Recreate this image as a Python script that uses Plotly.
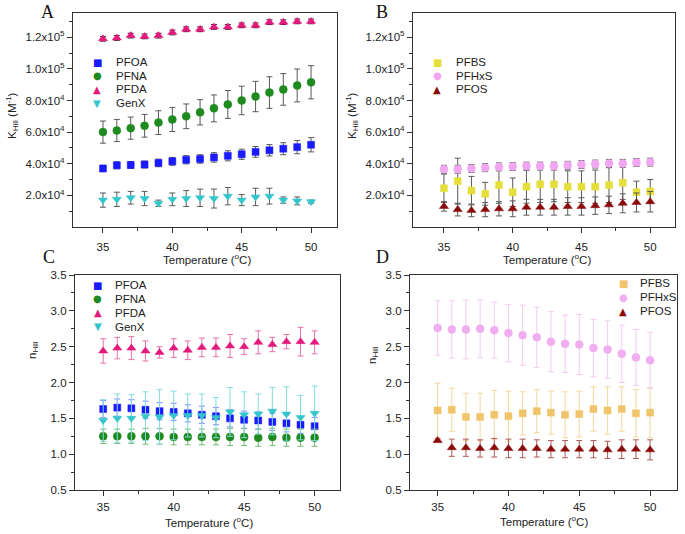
import plotly.graph_objects as go

W, H = 685, 534

temps = list(range(35, 51))

# Panel A: K_Hill (M^-1), carboxylates
A_PFOA = [3.70e4, 3.90e4, 3.92e4, 3.95e4, 4.05e4, 4.15e4, 4.25e4, 4.30e4, 4.40e4, 4.50e4, 4.60e4, 4.75e4, 4.85e4, 4.95e4, 5.05e4, 5.20e4]
A_PFOA_err = [0.20e4, 0.22e4, 0.22e4, 0.22e4, 0.24e4, 0.25e4, 0.26e4, 0.27e4, 0.30e4, 0.32e4, 0.32e4, 0.34e4, 0.36e4, 0.38e4, 0.42e4, 0.45e4]
A_PFNA = [6.00e4, 6.10e4, 6.25e4, 6.40e4, 6.60e4, 6.80e4, 7.00e4, 7.25e4, 7.50e4, 7.75e4, 8.00e4, 8.25e4, 8.50e4, 8.70e4, 8.95e4, 9.15e4]
A_PFNA_err = [0.70e4, 0.70e4, 0.70e4, 0.72e4, 0.75e4, 0.76e4, 0.78e4, 0.80e4, 0.85e4, 0.88e4, 0.90e4, 0.96e4, 1.00e4, 1.00e4, 1.04e4, 1.05e4]
A_PFDA = [1.190e5, 1.195e5, 1.210e5, 1.205e5, 1.210e5, 1.230e5, 1.250e5, 1.250e5, 1.265e5, 1.265e5, 1.275e5, 1.275e5, 1.295e5, 1.295e5, 1.300e5, 1.300e5]
A_PFDA_err = [0.15e4] * 16
A_GenX = [1.70e4, 1.75e4, 1.85e4, 1.80e4, 1.50e4, 1.75e4, 1.80e4, 1.85e4, 1.80e4, 1.95e4, 1.70e4, 1.90e4, 1.95e4, 1.70e4, 1.65e4, 1.60e4]
A_GenX_err = [0.45e4, 0.45e4, 0.40e4, 0.45e4, 0.20e4, 0.40e4, 0.50e4, 0.55e4, 0.60e4, 0.55e4, 0.35e4, 0.55e4, 0.50e4, 0.20e4, 0.25e4, 0.10e4]

# Panel B: K_Hill (M^-1), sulfonates
B_PFBS = [2.45e4, 2.90e4, 2.30e4, 2.10e4, 2.65e4, 2.20e4, 2.55e4, 2.70e4, 2.70e4, 2.55e4, 2.55e4, 2.55e4, 2.65e4, 2.80e4, 2.20e4, 2.25e4]
B_PFBS_err = [0.90e4, 1.45e4, 0.90e4, 0.72e4, 1.15e4, 0.90e4, 1.05e4, 1.15e4, 1.10e4, 1.00e4, 1.00e4, 1.05e4, 1.10e4, 1.05e4, 0.70e4, 0.75e4]
B_PFHxS = [3.65e4, 3.65e4, 3.70e4, 3.75e4, 3.80e4, 3.82e4, 3.85e4, 3.85e4, 3.85e4, 3.90e4, 3.95e4, 3.98e4, 4.02e4, 4.02e4, 4.08e4, 4.10e4]
B_PFHxS_err = [0.25e4] * 16
B_PFOS = [1.30e4, 1.10e4, 1.05e4, 1.10e4, 1.15e4, 1.15e4, 1.25e4, 1.25e4, 1.25e4, 1.30e4, 1.30e4, 1.35e4, 1.40e4, 1.50e4, 1.55e4, 1.60e4]
B_PFOS_err = [0.30e4, 0.40e4, 0.40e4, 0.45e4, 0.45e4, 0.50e4, 0.50e4, 0.50e4, 0.50e4, 0.55e4, 0.55e4, 0.55e4, 0.55e4, 0.60e4, 0.60e4, 0.65e4]

# Panel C: n_Hill, carboxylates
C_PFOA = [1.63, 1.65, 1.64, 1.62, 1.60, 1.59, 1.57, 1.55, 1.53, 1.50, 1.48, 1.47, 1.45, 1.43, 1.41, 1.39]
C_PFOA_err = [0.12] * 16
C_PFNA = [1.25, 1.25, 1.25, 1.25, 1.25, 1.24, 1.24, 1.24, 1.24, 1.24, 1.24, 1.23, 1.24, 1.23, 1.23, 1.23]
C_PFNA_err = [0.10, 0.10, 0.10, 0.11, 0.11, 0.11, 0.11, 0.11, 0.11, 0.12, 0.12, 0.12, 0.12, 0.12, 0.12, 0.12]
C_PFDA = [2.44, 2.48, 2.48, 2.44, 2.42, 2.48, 2.45, 2.49, 2.49, 2.51, 2.50, 2.56, 2.53, 2.57, 2.57, 2.56]
C_PFDA_err = [0.17, 0.15, 0.16, 0.14, 0.08, 0.13, 0.13, 0.13, 0.13, 0.16, 0.11, 0.16, 0.10, 0.10, 0.20, 0.16]
C_GenX = [1.47, 1.50, 1.50, 1.53, 1.52, 1.54, 1.54, 1.54, 1.51, 1.59, 1.55, 1.56, 1.60, 1.56, 1.51, 1.57]
C_GenX_err = [0.29, 0.34, 0.33, 0.34, 0.38, 0.34, 0.30, 0.30, 0.28, 0.34, 0.32, 0.28, 0.33, 0.38, 0.31, 0.38]

# Panel D: n_Hill, sulfonates
D_PFBS = [1.61, 1.62, 1.52, 1.52, 1.55, 1.53, 1.57, 1.60, 1.58, 1.55, 1.56, 1.63, 1.61, 1.63, 1.57, 1.58]
D_PFBS_err = [0.38, 0.30, 0.33, 0.33, 0.34, 0.35, 0.30, 0.30, 0.30, 0.32, 0.32, 0.31, 0.33, 0.31, 0.33, 0.35]
D_PFHxS = [2.76, 2.74, 2.74, 2.75, 2.73, 2.69, 2.66, 2.63, 2.57, 2.54, 2.53, 2.48, 2.46, 2.40, 2.35, 2.31]
D_PFHxS_err = [0.38, 0.40, 0.41, 0.40, 0.39, 0.40, 0.42, 0.42, 0.42, 0.40, 0.42, 0.40, 0.40, 0.40, 0.39, 0.39]
D_PFOS = [1.19, 1.09, 1.09, 1.08, 1.09, 1.08, 1.08, 1.08, 1.07, 1.07, 1.07, 1.07, 1.06, 1.07, 1.07, 1.06]
D_PFOS_err = [0.02, 0.12, 0.12, 0.12, 0.13, 0.13, 0.13, 0.12, 0.12, 0.12, 0.12, 0.12, 0.12, 0.13, 0.13, 0.14]

K_tickvals = [2e4, 4e4, 6e4, 8e4, 1e5, 1.2e5]
K_ticktext = ["2.0x10<sup>4</sup>", "4.0x10<sup>4</sup>", "6.0x10<sup>4</sup>",
              "8.0x10<sup>4</sup>", "1.0x10<sup>5</sup>", "1.2x10<sup>5</sup>"]
n_tickvals = [0.5, 1.0, 1.5, 2.0, 2.5, 3.0, 3.5]
n_ticktext = ["0.5", "1.0", "1.5", "2.0", "2.5", "3.0", "3.5"]
x_tickvals = [35, 40, 45, 50]

FONT = "Liberation Sans, Arial, sans-serif"
TXT = "#222222"
GRAY_ERR = "#5a5a5a"
SIZES = {"square": 7, "circle": 8, "triangle-up": 8, "triangle-down": 8}
GLYPHS = {"square": "■", "circle": "●", "triangle-up": "▲", "triangle-down": "▼"}

fig = go.Figure()
legend_rows = {"A": [], "B": [], "C": [], "D": []}

def add(panel, x, y, err, name, color, symbol, errcolor, xa, ya):
    fig.add_trace(go.Scatter(
        x=x, y=y, mode="markers", name=name, showlegend=False,
        marker=dict(color=color, symbol=symbol, size=SIZES[symbol], line=dict(color=color, width=0.5)),
        error_y=dict(type="data", array=err, visible=True, color=errcolor, thickness=1, width=3),
        xaxis=xa, yaxis=ya))
    legend_rows[panel].append((name, color, symbol))

# A
add("A", temps, A_PFOA, A_PFOA_err, "PFOA", "#1a1aff", "square", GRAY_ERR, "x", "y")
add("A", temps, A_PFNA, A_PFNA_err, "PFNA", "#1f8a1f", "circle", GRAY_ERR, "x", "y")
add("A", temps, A_PFDA, A_PFDA_err, "PFDA", "#e3197b", "triangle-up", "#3a1a2a", "x", "y")
add("A", temps, A_GenX, A_GenX_err, "GenX", "#33c7cc", "triangle-down", GRAY_ERR, "x", "y")
# B
add("B", temps, B_PFBS, B_PFBS_err, "PFBS", "#e6df3a", "square", GRAY_ERR, "x2", "y2")
add("B", temps, B_PFHxS, B_PFHxS_err, "PFHxS", "#f0a6f0", "circle", GRAY_ERR, "x2", "y2")
add("B", temps, B_PFOS, B_PFOS_err, "PFOS", "#8b0a0a", "triangle-up", GRAY_ERR, "x2", "y2")
# C
add("C", temps, C_PFOA, C_PFOA_err, "PFOA", "#1a1aff", "square", "#7f8cff", "x3", "y3")
add("C", temps, C_PFNA, C_PFNA_err, "PFNA", "#1f8a1f", "circle", "#74b874", "x3", "y3")
add("C", temps, C_PFDA, C_PFDA_err, "PFDA", "#e3197b", "triangle-up", "#e872aa", "x3", "y3")
add("C", temps, C_GenX, C_GenX_err, "GenX", "#33c7cc", "triangle-down", "#82dcdf", "x3", "y3")
# D
add("D", temps, D_PFBS, D_PFBS_err, "PFBS", "#f0c46a", "square", "#f2d89c", "x4", "y4")
add("D", temps, D_PFHxS, D_PFHxS_err, "PFHxS", "#f0aef0", "circle", "#f2ccf2", "x4", "y4")
add("D", temps, D_PFOS, D_PFOS_err, "PFOS", "#8b0a0a", "triangle-up", "#b05a5a", "x4", "y4")

def px_x(p):
    return p / W

def px_y(p):
    return 1 - p / H

axis_common = dict(showline=True, linecolor="#333333", linewidth=1.3, mirror=True,
                   ticks="outside", ticklen=5, tickwidth=1, tickcolor="#333333",
                   showgrid=False, zeroline=False, automargin=False,
                   tickfont=dict(family=FONT, size=11.5, color=TXT))

def xaxis(domain, rng, anchor, standoff):
    return dict(axis_common, domain=domain, range=rng, anchor=anchor,
                tickmode="array", tickvals=x_tickvals, ticklabelstandoff=standoff,
                minor=dict(tickmode="array", tickvals=[37.5, 42.5, 47.5], ticks="outside",
                           ticklen=3, tickcolor="#333333"))

def yaxis_K(domain, anchor):
    return dict(axis_common, domain=domain, range=[0, 1.353e5], anchor=anchor,
                tickmode="array", tickvals=K_tickvals, ticktext=K_ticktext,
                minor=dict(tickmode="array", tickvals=[1e4, 3e4, 5e4, 7e4, 9e4, 1.1e5, 1.3e5],
                           ticks="outside", ticklen=3, tickcolor="#333333"))

def yaxis_n(domain, anchor):
    return dict(axis_common, domain=domain, range=[0.5, 3.5], anchor=anchor,
                tickmode="array", tickvals=n_tickvals, ticktext=n_ticktext,
                minor=dict(tickmode="array", tickvals=[0.75, 1.25, 1.75, 2.25, 2.75, 3.25],
                           ticks="outside", ticklen=3, tickcolor="#333333"))

top_dom = [px_y(227), px_y(13)]
bot_dom = [px_y(490), px_y(275)]

fig.update_layout(
    width=W, height=H, paper_bgcolor="white", plot_bgcolor="white",
    margin=dict(l=0, r=0, t=0, b=0, autoexpand=False), showlegend=False,
    xaxis=xaxis([px_x(73), px_x(337)], [32.84, 51.87], "y", 4),
    yaxis=yaxis_K(top_dom, "x"),
    xaxis2=xaxis([px_x(413), px_x(675)], [32.75, 51.8], "y2", 4),
    yaxis2=yaxis_K(top_dom, "x2"),
    xaxis3=xaxis([px_x(75), px_x(340)], [33.0, 51.8], "y3", 1),
    yaxis3=yaxis_n(bot_dom, "x3"),
    xaxis4=xaxis([px_x(410), px_x(677)], [33.05, 51.9], "y4", 1),
    yaxis4=yaxis_n(bot_dom, "x4"),
)

def ann(text, xp, yp, size, family=FONT, color=TXT, angle=0, xanchor="center"):
    fig.add_annotation(text=text, x=px_x(xp), y=px_y(yp), xref="paper", yref="paper",
                       showarrow=False, xanchor=xanchor, yanchor="middle", textangle=angle,
                       borderpad=0, font=dict(family=family, size=size, color=color))

# Panel letters
for t, xp, yp in [("A", 47, 12), ("B", 382, 12), ("C", 49, 257), ("D", 382, 257)]:
    ann(t, xp, yp, 18, family="Liberation Serif, Times New Roman, serif", color="#111111")

# Axis titles
xtitle = "Temperature (<sup>o</sup>C)"
for xp, yp in [(207, 259), (547, 259), (209, 522), (544, 521)]:
    ann(xtitle, xp, yp, 11.5)
ktitle = "K<sub>Hill</sub> (M<sup>-1</sup>)"
ntitle = "n<sub>Hill</sub>"
for t, xp, yp in [(ktitle, 12, 116), (ktitle, 352, 116), (ntitle, 33, 350), (ntitle, 373, 355)]:
    ann(t, xp, yp, 11.5, angle=-90)

# Legends (symbol glyph + label), positioned inside each panel
legend_pos = {"A": (97, 115, 62, 13.7), "B": (437, 455, 62, 13.6),
              "C": (98, 114, 285, 13.9), "D": (623, 639, 283, 14.2)}
for panel, rows in legend_rows.items():
    sx, tx, y0, dy = legend_pos[panel]
    for i, (name, color, symbol) in enumerate(rows):
        yp = y0 + i * dy
        ann(GLYPHS[symbol], sx, yp, 10, family="DejaVu Sans", color=color)
        ann(name, tx, yp, 11.5, xanchor="left")

fig.write_html("out.html", config={"displayModeBar": False},
               post_script="document.body.style.margin='0';document.body.style.overflow='hidden';")
